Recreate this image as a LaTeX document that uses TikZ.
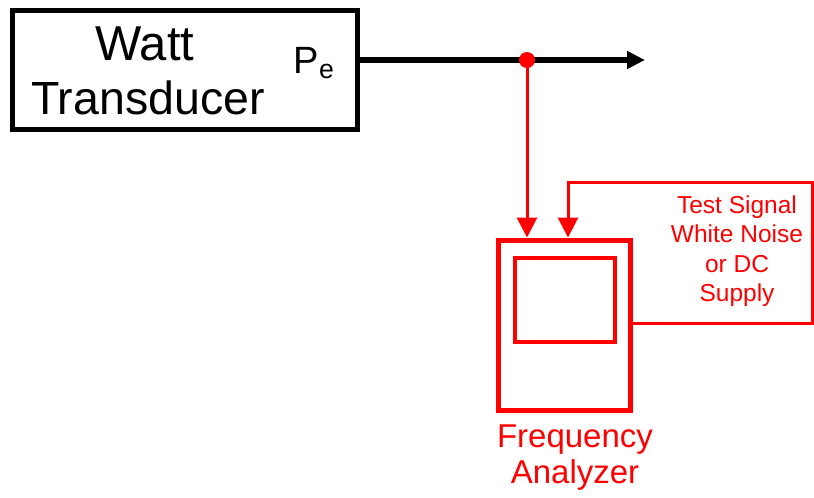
\documentclass[tikz,border=0pt]{standalone}
\usepackage{fontspec}
\setmainfont{Liberation Sans}
\usetikzlibrary{arrows.meta, calc, positioning}

\tikzset{
  blackbox/.style={draw, line width=5pt, inner sep=0pt},
  redbox/.style={draw=red, line width=#1, inner sep=0pt},
  redline/.style={draw=red, line width=3pt},
  tip/.style={-{Triangle[length=20pt, width=20pt]}}
}

\begin{document}
\begin{tikzpicture}[x=1pt, y=-1pt]
  \useasboundingbox (0, 0) rectangle (814, 498);

  % watt transducer
  \node[blackbox, minimum width=345pt, minimum height=119.5pt] (watt) at (185, 69.75) {};
  \node[font=\fontsize{49}{56}\selectfont] (wattname) at (145, 44) {Watt};
  \node[font=\fontsize{46.5}{56}\selectfont] (wattname2) at (148, 98) {Transducer};
  \node[font=\fontsize{38}{44}\selectfont] (pe) at (314, 63) {P\textsubscript{e}};

  % frequency analyzer
  \node[redbox=5pt, minimum width=132pt, minimum height=170pt] (fa) at (564, 325) {};
  \node[redbox=4pt, minimum width=100pt, minimum height=84pt] (screen) at (565, 300) {};
  \node[red, align=center, font=\fontsize{33}{36}\selectfont] (faname) at (575, 458) {Frequency\\Analyzer};
  \node[red, align=center, font=\fontsize{24.5}{29.5}\selectfont] (source) at (737, 251) {Test Signal\\White Noise\\or DC\\Supply};

  \coordinate (tap) at (527, 60);
  \coordinate (out) at (645, 60);
  \coordinate (srcin) at (568, 182);
  \coordinate (corner) at (812.5, 323);

  % signal
  \draw[line width=5.5pt, -{Triangle[length=18pt, width=17pt]}] (watt.east |- tap) -- (out);
  \draw[redline, tip] (tap) -- (tap |- fa.north);
  \fill[red] (tap) circle (8pt);

  % test signal loop
  \draw[redline, tip] (fa.east |- corner) -- (corner) -- (corner |- srcin) -- (srcin) -- (srcin |- fa.north);
\end{tikzpicture}
\end{document}
